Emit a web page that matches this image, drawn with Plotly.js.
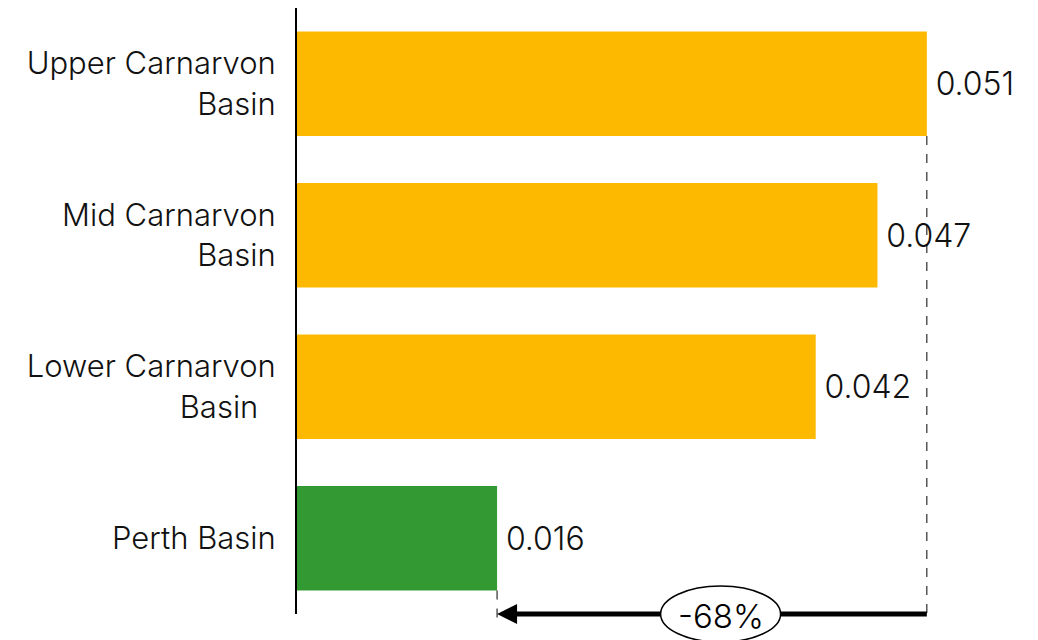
<!DOCTYPE html>
<html>
<head>
<meta charset="utf-8">
<script src="https://cdn.plot.ly/plotly-3.0.1.min.js"></script>
<style>html,body{margin:0;padding:0;background:#fff;}#chart{width:1038px;height:640px;}</style>
</head>
<body>
<div id="chart"></div>
<script>
const categories = ["Upper Carnarvon<br>Basin", "Mid Carnarvon<br>Basin", "Lower Carnarvon<br>Basin\u00a0\u00a0", "Perth Basin"];
const values = [0.051, 0.047, 0.042, 0.0162];
const barColors = ["#FDB900", "#FDB900", "#FDB900", "#339933"];
const valueLabels = ["0.051", "0.047", "0.042", "0.016"];
const changeLabel = "-68%";

const bargap = 0.31;
const nCat = categories.length;
const toPaper = (c) => (nCat - 0.5 - c) / nCat;
const halfBar = (1 - bargap) / 2;
const maxV = values[0], minV = values[3];
const FAM = "Inter, Liberation Sans, Arial, sans-serif";

const trace = {
  type: "bar",
  orientation: "h",
  y: categories,
  x: values,
  marker: {color: barColors},
  text: valueLabels.map(t => "\u2009" + t),
  textposition: "outside",
  constraintext: "none",
  cliponaxis: false,
  textfont: {family: FAM, size: 32, color: "#111", weight: 300},
  hoverinfo: "none"
};

const font = {family: FAM, size: 31, color: "#111", weight: 300};

const layout = {
  width: 1038, height: 640,
  margin: {l: 297, r: 0, t: 8, b: 26},
  paper_bgcolor: "#fff", plot_bgcolor: "#fff",
  showlegend: false,
  bargap: bargap,
  font: font,
  xaxis: {range: [0, 0.06], visible: false, showgrid: false, zeroline: false, fixedrange: true},
  yaxis: {autorange: "reversed", showline: true, linecolor: "#000", linewidth: 2,
          showgrid: false, zeroline: false, ticks: "", ticklabelstandoff: 13,
          tickfont: font, fixedrange: true},
  shapes: [
    {type: "line", xref: "x", yref: "paper", x0: maxV, x1: maxV,
     y0: toPaper(0 + halfBar), y1: -0.013, line: {color: "#000", width: 1, dash: "dash"}},
    {type: "line", xref: "x", yref: "paper", x0: minV, x1: minV,
     y0: toPaper(3 + halfBar), y1: -0.018, line: {color: "#000", width: 1, dash: "dash"}},
    {type: "line", xref: "x", yref: "paper", x0: minV + 0.0008, x1: maxV,
     y0: 0, y1: 0, line: {color: "#000", width: 5}},
    {type: "circle", xref: "x", yref: "paper", xsizemode: "pixel", ysizemode: "pixel",
     xanchor: 0.0343, yanchor: 0, x0: -60, x1: 60, y0: -28, y1: 28,
     fillcolor: "#fff", line: {color: "#000", width: 1.5}, layer: "above"}
  ],
  annotations: [
    {xref: "x", yref: "paper", x: minV, y: 0, axref: "x", ayref: "pixel",
     ax: minV + 0.0015, ay: 0, text: "", showarrow: true, arrowhead: 2,
     arrowsize: 1, arrowwidth: 4, arrowcolor: "#000", standoff: 0, startstandoff: 0},
    {xref: "x", yref: "paper", x: 0.0343, y: 0, yshift: -2, text: changeLabel, showarrow: false,
     font: {family: FAM, size: 33, color: "#000", weight: 300},
     xanchor: "center", yanchor: "middle"}
  ]
};

Plotly.newPlot("chart", [trace], layout, {displayModeBar: false, staticPlot: true});
</script>
</body>
</html>
